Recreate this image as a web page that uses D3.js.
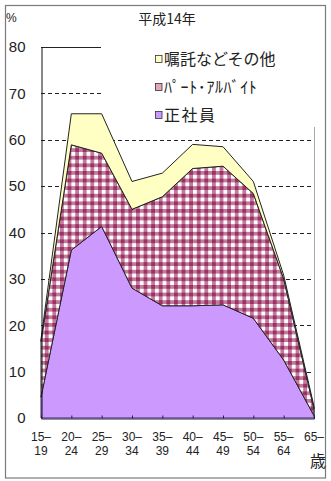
<!DOCTYPE html>
<html>
<head>
<meta charset="utf-8">
<script src="https://cdn.jsdelivr.net/npm/d3@7"></script>
<style>
  html, body { margin: 0; padding: 0; background: #fff; }
  svg { display: block; }
  .num { font-family: "Liberation Sans", Arial, sans-serif; fill: #222; }
  .jp { font-family: "Noto Sans CJK JP", sans-serif; fill: #222; }
</style>
</head>
<body>
<script>
// Age groups (x axis)
const categories = ["15–19", "20–24", "25–29", "30–34", "35–39", "40–44", "45–49", "50–54", "55–64", "65–"];
// Employment share by type, % (stacked from the bottom)
const seishain = [4.5, 36.2, 41.3, 28.0, 24.2, 24.2, 24.4, 21.5, 12.5, 0.5];   // 正社員
const part     = [12.0, 22.7, 15.8, 17.0, 23.5, 29.6, 29.9, 26.9, 17.5, 1.5]; // パート・アルバイト
const other    = [0.5, 6.7, 8.5, 6.0, 5.1, 5.2, 4.2, 2.6, 0.8, 0.5];         // 嘱託などその他
const yTicks   = [0, 10, 20, 30, 40, 50, 60, 70, 80];
const seriesKeys   = ["seishain", "part", "other"];
const seriesLabels = { other: "嘱託などその他", part: "ﾊﾟｰﾄ･ｱﾙﾊﾞｲﾄ", seishain: "正社員" };
const title = "平成14年";

const W = 331, H = 481;
const svg = d3.select("body").append("svg").attr("width", W).attr("height", H);

// checkered fill for the part-time layer
const defs = svg.append("defs");
const pat = defs.append("pattern").attr("id", "checker")
  .attr("patternUnits", "userSpaceOnUse").attr("width", 7.6).attr("height", 7.6)
  .attr("x", 41).attr("y", 0);
pat.append("rect").attr("width", 7.6).attr("height", 7.6).attr("fill", "#c47a9c");
pat.append("rect").attr("width", 3.8).attr("height", 3.8).attr("fill", "#ffffff");
pat.append("rect").attr("x", 3.8).attr("y", 3.8).attr("width", 3.8).attr("height", 3.8).attr("fill", "#993366");

const fills = { seishain: "#CC99FF", part: "url(#checker)", other: "#FFFFC4" };
const strokes = { seishain: "#3a2a60", part: "#222", other: "#222" };

// outer frame
svg.append("rect").attr("x", 5.5).attr("y", 5.5).attr("width", 320).attr("height", 472.5)
  .attr("fill", "#fff").attr("stroke", "#7a7a7a").attr("stroke-width", 1.2);

const x = d3.scalePoint().domain(categories).range([41, 314]).padding(0);
const y = d3.scaleLinear().domain([0, 80]).range([418, 47]);

// gridlines
const grid = svg.append("g");
grid.selectAll("line.g").data(yTicks.filter(v => v > 0 && v < 80)).join("line")
  .attr("x1", 41).attr("x2", 314)
  .attr("y1", d => Math.round(y(d)) + 0.5).attr("y2", d => Math.round(y(d)) + 0.5)
  .attr("stroke", "#222").attr("stroke-width", 1).attr("stroke-dasharray", "4,3");
// plot border: top and right
svg.append("line").attr("x1", 41).attr("x2", 314)
  .attr("y1", Math.round(y(80)) + 0.5).attr("y2", Math.round(y(80)) + 0.5)
  .attr("stroke", "#222");
svg.append("line").attr("x1", 314.5).attr("x2", 314.5).attr("y1", y(80)).attr("y2", y(0))
  .attr("stroke", "#aaa");

// legend background sits over the grid but under the areas
svg.append("rect").attr("x", 101).attr("y", 38).attr("width", 218).attr("height", 89).attr("fill", "#fff");

// stacked areas
const rows = categories.map((c, i) => ({ cat: c, seishain: seishain[i], part: part[i], other: other[i] }));
const stack = d3.stack().keys(seriesKeys)(rows);
const area = d3.area().x(d => x(d.data.cat)).y0(d => y(d[0])).y1(d => y(d[1]));
svg.append("g").selectAll("path").data(stack).join("path")
  .attr("d", area)
  .attr("fill", d => fills[d.key])
  .attr("stroke", d => strokes[d.key])
  .attr("stroke-width", 1)
  .attr("stroke-linejoin", "round");

// axes
const yAxis = d3.axisLeft(y).tickValues(yTicks).tickSize(0).tickPadding(16);
const gy = svg.append("g").attr("transform", "translate(41.5,0)").call(yAxis);
gy.select(".domain").attr("stroke", "#111");
gy.selectAll("text").attr("class", "num").attr("font-size", 15).attr("fill", "#222");

const xAxis = d3.axisBottom(x).tickSize(-3).tickFormat("");
const gx = svg.append("g").attr("transform", "translate(0,418.5)").call(xAxis);
gx.select(".domain").attr("stroke", "#2a2050");
gx.selectAll(".tick line").attr("stroke", "#2a2050");

// two-line category labels
const lab = svg.append("g").selectAll("text").data(categories).join("text")
  .attr("class", "num").attr("font-size", 12).attr("text-anchor", "middle");
lab.each(function (c) {
  const parts = c.split("–");
  const t = d3.select(this);
  t.append("tspan").attr("x", x(c)).attr("y", 441).text(parts[0] + "–");
  if (parts[1]) t.append("tspan").attr("x", x(c)).attr("y", 455).text(parts[1]);
});

// unit labels and title
svg.append("text").attr("class", "num").attr("x", 6).attr("y", 22).attr("font-size", 12).text("%");
svg.append("text").attr("class", "jp").attr("x", 167).attr("y", 24).attr("font-size", 14)
  .attr("text-anchor", "middle").text(title);
svg.append("text").attr("class", "jp").attr("x", 318).attr("y", 467).attr("font-size", 16)
  .attr("text-anchor", "middle").text("歳");

// legend entries
const legendKeys = ["other", "part", "seishain"];
const lgItems = svg.append("g").selectAll("g.item").data(legendKeys).join("g")
  .attr("transform", (d, i) => `translate(155,${59 + i * 28})`);
lgItems.append("rect").attr("x", 0.5).attr("y", -3.5).attr("width", 6.5).attr("height", 7)
  .attr("fill", d => d === "part" ? "#e3a6c0" : fills[d]).attr("stroke", "#333").attr("stroke-width", 0.8);
lgItems.append("text").attr("class", "jp").attr("x", 9).attr("y", 6).attr("font-size", 16)
  .attr("letter-spacing", d => d === "seishain" ? 1.5 : d === "part" ? 0.6 : 0)
  .text(d => seriesLabels[d]);
</script>
</body>
</html>
